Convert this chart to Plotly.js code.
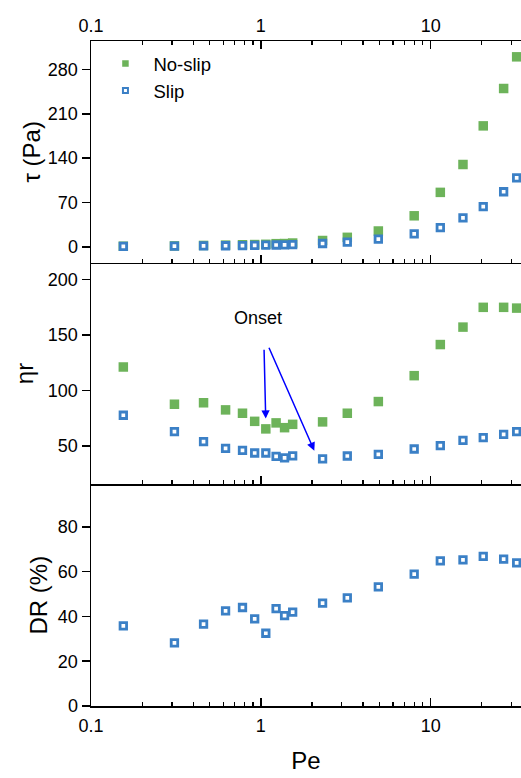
<!DOCTYPE html>
<html>
<head>
<meta charset="utf-8">
<script src="https://cdn.plot.ly/plotly-3.0.1.min.js"></script>
<style>
  html, body { margin: 0; padding: 0; background: #ffffff; }
  #chart { width: 521px; height: 778px; }
</style>
</head>
<body>
<div id="chart"></div>
<script>
// Péclet number of each measurement
const pe = [0.155, 0.31, 0.46, 0.62, 0.78, 0.92, 1.07, 1.23, 1.38, 1.54,
            2.31, 3.23, 4.92, 8.0, 11.4, 15.5, 20.4, 26.9, 32.1];

// Wall shear stress (Pa)
const tauNoSlip = [1.0, 1.5, 2.2, 2.7, 3.3, 3.6, 4.0, 5.0, 5.2, 6.0,
                   10, 15, 25, 49, 86, 130, 191, 250, 300];
const tauSlip = [0.7, 1.0, 1.4, 1.7, 2.0, 2.3, 2.6, 2.9, 3.1, 3.5,
                 5.3, 7.4, 12.1, 20.5, 30.4, 45.7, 63.5, 87, 109];

// Relative viscosity
const etaNoSlip = [121.1, 87.6, 88.9, 82.5, 79.5, 72.2, 65.4, 70.8, 66.5, 69.5,
                   71.7, 79.5, 90, 113.3, 141.3, 157, 174.8, 174.8, 174.1];
const etaSlip = [77.7, 62.9, 53.9, 47.8, 46, 43.7, 43.7, 40.6, 39.4, 41.2,
                 38.5, 41, 42.4, 47.3, 50.3, 55.1, 57.5, 60.5, 62.9];

// Drag reduction (%)
const drSlip = [35.8, 28.2, 36.6, 42.5, 44, 38.9, 32.5, 43.5, 40.4, 41.9,
                45.9, 48.3, 53.2, 58.9, 64.8, 65.3, 66.8, 65.6, 63.9];

// Axis ticks
const peTicks = [0.1, 1, 10];
const peTickText = ['0.1', '1', '10'];
const peMinor = [0.2, 0.3, 0.4, 0.5, 0.6, 0.7, 0.8, 0.9,
                 2, 3, 4, 5, 6, 7, 8, 9, 20, 30];
const tauTicks = [0, 70, 140, 210, 280];
const etaTicks = [50, 100, 150, 200];
const drTicks = [0, 20, 40, 60, 80];

const GREEN = '#6DB35A';
const BLUE = '#3B80C6';
const FONT = 'Liberation Sans, Arial, sans-serif';

// filled squares for no-slip, white-centred squares for slip
const filled = { symbol: 'square', size: 9.5, color: GREEN, line: { width: 0 } };
const open = { symbol: 'square', size: 6.5, color: '#ffffff', line: { width: 2.8, color: BLUE } };

function pts(x, y, xa, ya, marker) {
  return { x: x, y: y, xaxis: xa, yaxis: ya, type: 'scatter', mode: 'markers',
           marker: marker, showlegend: false, cliponaxis: false, hoverinfo: 'skip' };
}

const traces = [
  pts(pe, tauNoSlip, 'x', 'y', filled),
  pts(pe, tauSlip, 'x', 'y', open),
  pts(pe, etaNoSlip, 'x2', 'y2', filled),
  pts(pe, etaSlip, 'x2', 'y2', open),
  pts(pe, drSlip, 'x3', 'y3', open),
  // legend entries
  { x: [null], y: [null], xaxis: 'x', yaxis: 'y', type: 'scatter', mode: 'markers', name: 'No-slip',
    marker: { symbol: 'square', size: 6.5, color: GREEN, line: { width: 0 } } },
  { x: [null], y: [null], xaxis: 'x', yaxis: 'y', type: 'scatter', mode: 'markers', name: 'Slip',
    marker: { symbol: 'square', size: 5, color: '#ffffff', line: { width: 2, color: BLUE } } }
];

const xRange = [-1, 1.532];

function peAxis(extra) {
  return Object.assign({
    type: 'log', range: xRange, domain: [0, 1],
    tickvals: peTicks, ticktext: peTickText,
    ticks: 'inside', ticklen: 8, tickwidth: 1.5, tickcolor: '#000',
    minor: { tickvals: peMinor, ticks: 'inside', ticklen: 4, tickwidth: 1.2, tickcolor: '#000', showgrid: false },
    showline: true, linewidth: 1.5, linecolor: '#000',
    showgrid: false, zeroline: false,
    tickfont: { family: FONT, size: 18, color: '#000' }
  }, extra);
}

function valAxis(domain, range, ticks, title, standoff, extra) {
  return Object.assign({
    domain: domain, range: range, tickvals: ticks,
    ticks: 'outside', ticklen: 8, tickwidth: 1.5, tickcolor: '#000',
    showline: true, linewidth: 1.5, linecolor: '#000',
    showgrid: false, zeroline: false,
    tickfont: { family: FONT, size: 18, color: '#000' },
    title: { text: title, font: { family: FONT, size: 24, color: '#000' }, standoff: standoff }
  }, extra);
}

function rightTicks(over, anchor, range, ticks) {
  return {
    overlaying: over, anchor: anchor, side: 'right', range: range, tickvals: ticks,
    ticks: 'inside', ticklen: 3, tickwidth: 1.5, tickcolor: '#000',
    showticklabels: false, showline: false, showgrid: false, zeroline: false
  };
}

const tauRange = [-25, 325];
const etaRange = [15.5, 215];
const drRange = [0, 99];

const layout = {
  width: 521, height: 778,
  margin: { l: 91, r: 0, t: 41, b: 72 },
  paper_bgcolor: '#ffffff', plot_bgcolor: '#ffffff',
  font: { family: FONT, color: '#000' },
  showlegend: true,
  legend: {
    x: 0.015, y: 0.994, xanchor: 'left', yanchor: 'top',
    bgcolor: 'rgba(0,0,0,0)', borderwidth: 0,
    itemwidth: 46, tracegroupgap: 0,
    font: { family: FONT, size: 18.5, color: '#000' }
  },
  xaxis: peAxis({ anchor: 'y', side: 'top', mirror: 'ticks' }),
  xaxis2: peAxis({ anchor: 'y2', matches: 'x', showticklabels: false }),
  xaxis3: peAxis({ anchor: 'y3', matches: 'x', ticklabelstandoff: 3,
                   title: { text: 'Pe', font: { family: FONT, size: 24, color: '#000' }, standoff: 17 } }),
  yaxis: valAxis([2 / 3, 1], tauRange, tauTicks, 'τ (Pa)', 0, { anchor: 'x', automargin: false }),
  yaxis2: valAxis([1 / 3, 2 / 3], etaRange, etaTicks, 'ηr', 7, { anchor: 'x2' }),
  yaxis3: valAxis([0, 1 / 3], drRange, drTicks, 'DR (%)', 3, { anchor: 'x3' }),
  yaxis4: rightTicks('y', 'x', tauRange, tauTicks),
  yaxis5: rightTicks('y2', 'x2', etaRange, etaTicks),
  yaxis6: rightTicks('y3', 'x3', drRange, drTicks),
  annotations: [
    { xref: 'x2', yref: 'y2', x: -0.0194, y: 165, text: 'Onset', showarrow: false,
      font: { family: FONT, size: 18, color: '#000' } },
    { xref: 'x2', yref: 'y2', axref: 'x2', ayref: 'y2',
      x: 0.0289, y: 74.7, ax: 0.0189, ay: 138, text: '',
      showarrow: true, arrowhead: 2, arrowsize: 1.1, arrowwidth: 1.5, arrowcolor: '#0000FF', standoff: 0 },
    { xref: 'x2', yref: 'y2', axref: 'x2', ayref: 'y2',
      x: 0.315, y: 45.8, ax: 0.0442, ay: 139.8, text: '',
      showarrow: true, arrowhead: 2, arrowsize: 1.1, arrowwidth: 1.5, arrowcolor: '#0000FF', standoff: 0 }
  ]
};

Plotly.newPlot('chart', traces, layout, { staticPlot: true, displayModeBar: false });
</script>
</body>
</html>
